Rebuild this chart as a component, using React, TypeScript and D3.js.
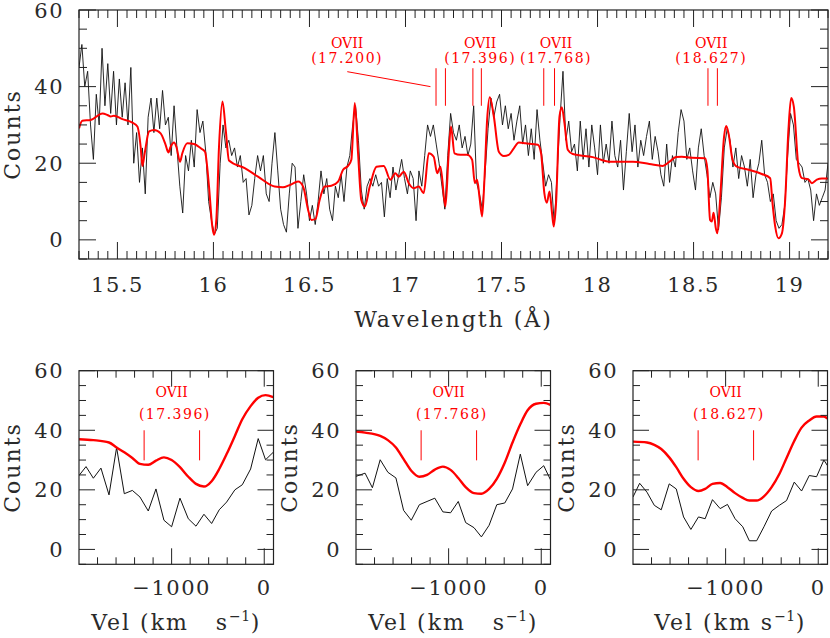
import React from "react";
import * as d3 from "d3";

const FONT = "'DejaVu Serif', serif";
const INK = "#222";
const RED = "#ff0000";

// ---------- top panel data ----------
const topWaveStart = 15.3;
const topWaveStep = 0.015;
const topCounts = [
  45, 51, 40, 44, 30, 21, 38, 30, 50, 35, 46, 33, 44, 30, 42, 32, 41, 30, 45, 20, 28, 15, 24, 12, 32, 37, 28, 37, 29, 39, 30, 32, 22, 35, 24, 14, 7, 22, 18, 26, 19, 34, 28, 31, 23, 10, 5, 1.5, 3, 20, 30, 24, 26, 22,
  24, 19, 22, 15, 16, 6.5, 9, 16, 22, 18, 22, 12, 10, 20, 28, 18, 8, 4, 2, 12, 20, 19, 3, 10, 17, 12, 5, 9, 4, 10, 18, 12, 16, 8, 5, 14, 11, 17, 10, 19, 22, 30, 35, 26, 13, 8, 14, 16, 14, 17, 14,
  15, 6, 16, 11, 19, 13, 17, 21, 16, 12, 18, 16, 5, 18, 14, 22, 30, 27, 30, 25, 20, 14, 8, 22, 33, 28, 26, 30, 24, 27, 22, 25, 35, 15, 12, 8, 18, 29, 37, 32, 36, 38, 30, 35, 29, 33, 26, 31, 35, 25, 30, 22,
  29, 21, 34, 26, 20, 14, 17, 15, 4, 18, 32, 44, 26, 31, 23, 25, 18, 31, 21, 29, 19, 30, 24, 17, 30, 20, 25, 20, 31, 22, 19, 26, 13, 23, 33, 23, 30, 19, 26, 22, 27, 31, 21, 27, 23, 17, 14, 25, 15, 22, 19, 28,
  34, 31, 21, 24, 18, 13, 24, 29, 22, 17, 11, 15, 12, 2.6, 11, 24, 29, 26, 19, 24, 16, 22, 19, 14, 21, 11, 17, 20, 26, 17, 15, 10, 12, 5, 3, 4, 9, 22, 33, 30, 21, 20, 19, 15, 16, 13, 5, 12, 9, 11, 13, 20,
];
const modelWave = [
  15.3, 15.317, 15.361, 15.422, 15.448, 15.465, 15.482, 15.526, 15.578, 15.604, 15.621, 15.63, 15.642, 15.665, 15.691, 15.725, 15.751, 15.765, 15.777, 15.795, 15.807, 15.826, 15.838, 15.864, 15.899, 15.934, 15.956, 15.977, 15.994, 16.003, 16.015, 16.029, 16.047, 16.064, 16.081,
  16.163, 16.232, 16.319, 16.362, 16.397, 16.441, 16.467, 16.493, 16.51, 16.531, 16.553, 16.579, 16.614, 16.649, 16.675, 16.701, 16.718, 16.736, 16.753, 16.77, 16.788, 16.814, 16.849,
  16.887, 16.921, 16.947, 16.965, 16.991, 17.017, 17.043, 17.069, 17.095, 17.121, 17.147, 17.165, 17.182, 17.208, 17.225, 17.237, 17.255, 17.286, 17.321, 17.347, 17.361, 17.373, 17.385, 17.399, 17.411, 17.425, 17.439, 17.46, 17.486, 17.512, 17.538, 17.564, 17.59, 17.625,
  17.689, 17.706, 17.723, 17.736, 17.75, 17.763, 17.772, 17.784, 17.802, 17.814, 17.828, 17.845, 17.871, 17.975, 18.062, 18.184, 18.27, 18.34, 18.375, 18.409,
  18.439, 18.491, 18.56, 18.572, 18.586, 18.595, 18.604, 18.616, 18.624, 18.638, 18.659, 18.67, 18.682, 18.703, 18.725, 18.786, 18.855, 18.899, 18.911, 18.925, 18.942, 18.96, 18.977, 18.994, 19.008, 19.022, 19.046, 19.064, 19.098, 19.116, 19.142, 19.168, 19.203,
];
const modelCounts = [
  29.1, 31.1, 31.3, 33.0, 32.6, 32.2, 32.4, 31.5, 30.6, 29.6, 24.3, 19.3, 22.6, 28.3, 28.7, 27.8, 24.8, 22.8, 24.3, 25.4, 24.3, 20.4, 22.6, 25.2, 25.0, 23.9, 23.0, 13.9, 3.5, 1.3, 5.2, 24.3, 36.1, 28.7, 20.7,
  18.7, 16.5, 13.9, 13.7, 14.3, 15.2, 13.9, 7.8, 5.2, 5.4, 10.4, 13.9, 14.1, 15.2, 18.3, 19.3, 20.9, 35.7, 22.6, 10.4, 8.7, 13.9, 19.1,
  19.3, 15.7, 17.4, 16.5, 17.8, 14.8, 13.5, 13.9, 12.2, 22.6, 21.7, 17.4, 19.1, 8.7, 22.6, 29.6, 22.6, 22.2, 22.2, 20.9, 14.8, 15.7, 11.3, 6.1, 15.7, 31.3, 37.2, 32.2, 23.0, 21.9, 22.2, 23.9, 25.4, 25.2,
  24.8, 22.6, 12.2, 9.7, 12.6, 7.0, 3.5, 9.6, 32.2, 34.6, 30.4, 23.5, 22.4, 21.6, 20.4, 20.4, 19.8, 19.3, 20.4, 21.6,
  21.7, 21.4, 21.3, 18.3, 5.2, 4.8, 7.1, 3.0, 1.7, 10.4, 27.0, 29.7, 27.8, 20.9, 19.1, 18.3, 17.2, 16.1, 9.6, 3.5, 0.4, 1.7, 10.4, 28.7, 37.0, 34.8, 19.1, 16.1, 15.8, 14.8, 15.7, 16.0, 16.0,
];

// line identifications (top panel)
const ionNames = ["OVII", "OVII", "OVII", "OVII"];
const restLabels = ["(17.200)", "(17.396)", "(17.768)", "(18.627)"];
const labelWave = [16.696, 17.389, 17.784, 18.592];
const markWaveA = [17.159, 17.351, 17.72, 18.575];
const markWaveB = [17.208, 17.395, 17.776, 18.624];

const topXTicks = [15.5, 16, 16.5, 17, 17.5, 18, 18.5, 19];
const topXTickLabels = ["15.5", "16", "16.5", "17", "17.5", "18", "18.5", "19"];
const yTicks = [0, 20, 40, 60];
const yTickLabels = ["0", "20", "40", "60"];

// ---------- bottom panels data ----------
const p1Vel = [-2000, -1924, -1845, -1763, -1676, -1594, -1511, -1424, -1342, -1252, -1169, -1083, -1000, -910, -820, -737, -651, -568, -486, -406, -317, -237, -147, -65, 14, 97];
const p1Counts = [24.8, 27.8, 23.9, 27.3, 18.3, 34.2, 18.7, 19.8, 17.6, 12.9, 20.3, 9.8, 7.6, 17.2, 10.3, 7.8, 11.8, 8.7, 13.3, 15.9, 20, 21.7, 27, 37.2, 30.1, 32.6];
const p1ModelVel = [-2000, -1845, -1676, -1594, -1511, -1424, -1342, -1252, -1169, -1083, -1000, -910, -820, -737, -651, -568, -486, -406, -317, -237, -147, -65, 14, 97];
const p1Model = [37, 36.7, 35.9, 34.2, 32.6, 30.7, 28.7, 28.4, 29.8, 30.9, 30, 27.6, 24.4, 22, 21.1, 22.9, 27, 32, 38.1, 43.7, 48.1, 50.9, 51.8, 51.1];

const p2Vel = [-2011, -1902, -1823, -1739, -1656, -1569, -1486, -1403, -1316, -1233, -1149, -1062, -979, -896, -816, -726, -646, -563, -480, -393, -310, -226, -147, -56, 27, 107];
const p2Counts = [24.4, 25.6, 20.7, 30.1, 25.9, 24, 13.1, 9.8, 15, 16.1, 17.2, 12.6, 12.3, 16.1, 9, 7.3, 4.2, 8.1, 15, 15.6, 20.3, 32, 21.4, 25.9, 28.1, 22.9];
const p2ModelVel = [-2011, -1902, -1739, -1656, -1569, -1486, -1403, -1316, -1233, -1149, -1062, -979, -896, -816, -726, -646, -563, -480, -393, -310, -226, -147, -56, 27, 107];
const p2Model = [39.6, 39.2, 38.1, 36.7, 34.2, 30.3, 26.4, 24.4, 25, 26.8, 27.8, 26.7, 24, 20.9, 18.9, 18.7, 20.3, 23.7, 29.2, 35.9, 42, 46.7, 48.9, 49.2, 48.4];

const p3Vel = [-2000, -1928, -1849, -1770, -1695, -1609, -1533, -1454, -1375, -1293, -1221, -1142, -1059, -980, -898, -815, -744, -665, -586, -503, -420, -342, -259, -180, -97, -18, 61, 100];
const p3Counts = [17.6, 22.2, 19.2, 14.8, 13.3, 22, 20.3, 10.9, 6.7, 10.9, 10.3, 16.7, 13.7, 15.1, 10.3, 7.6, 2.9, 2.9, 7.6, 12.9, 14.8, 16.4, 22.6, 19.6, 24.8, 24.4, 30, 28.1];
const p3ModelVel = [-2000, -1849, -1770, -1695, -1609, -1533, -1454, -1375, -1293, -1221, -1142, -1059, -980, -898, -815, -744, -665, -586, -503, -420, -342, -259, -180, -97, -18, 61, 100];
const p3Model = [36.2, 35.9, 35.1, 33.7, 30.9, 27.6, 23.7, 20.9, 19.6, 20.3, 22, 22.3, 20.9, 18.9, 17.3, 16.4, 16.4, 17.8, 20.9, 25.3, 30.7, 36.4, 40.9, 43.3, 44.6, 44.6, 43.9];

const panelRest = ["(17.396)", "(17.768)", "(18.627)"];
const panelMarkVel = [-1297, -698];
const botXTicks = [-1000, 0];
const botXTickLabels = ["\u22121000", "0"];

type Pt = [number, number];

function Frame(props: {
  x0: number; y0: number; w: number; h: number;
  xs: (v: number) => number; ys: (v: number) => number;
  xMajor: number[]; xMinor: number[]; yMajor: number[]; yMinor: number[];
  maj: number; min: number;
}) {
  const { x0, y0, w, h, xs, ys, xMajor, xMinor, yMajor, yMinor, maj, min } = props;
  const segs: string[] = [];
  const vx = (v: number, L: number) => {
    const x = xs(v);
    segs.push(`M${x},${y0 + h}V${y0 + h - L}`);
    segs.push(`M${x},${y0}V${y0 + L}`);
  };
  const vy = (v: number, L: number) => {
    const y = ys(v);
    segs.push(`M${x0},${y}H${x0 + L}`);
    segs.push(`M${x0 + w},${y}H${x0 + w - L}`);
  };
  xMajor.forEach((v) => vx(v, maj));
  xMinor.forEach((v) => vx(v, min));
  yMajor.forEach((v) => vy(v, maj));
  yMinor.forEach((v) => vy(v, min));
  return (
    <g>
      <path d={segs.join("")} stroke={INK} strokeWidth={1} fill="none" />
      <rect x={x0} y={y0} width={w} height={h} fill="none" stroke={INK} strokeWidth={1.2} />
    </g>
  );
}

const tickText = { fontFamily: FONT, fontSize: 21, fill: "#2a2a2a", letterSpacing: 1.5 } as const;
const titleText = { fontFamily: FONT, fontSize: 22, fill: "#2a2a2a", letterSpacing: 2 } as const;
const redText = { fontFamily: FONT, fontSize: 14, fill: RED } as const;

function TopPanel() {
  const x0 = 79, y0 = 10, w = 749, h = 249;
  const xs = d3.scaleLinear().domain([15.3, 19.2]).range([x0, x0 + w]);
  const ys = d3.scaleLinear().domain([-5, 60]).range([y0 + h, y0]);
  const dataPts: Pt[] = topCounts.map((c, i) => [topWaveStart + i * topWaveStep, c]);
  const modelPts: Pt[] = modelWave.map((wv, i) => [wv, modelCounts[i]]);
  const lineData = d3.line<Pt>().x((d) => xs(d[0])).y((d) => ys(d[1]));
  const lineModel = d3.line<Pt>().x((d) => xs(d[0])).y((d) => ys(d[1])).curve(d3.curveMonotoneX);
  const xMinor: number[] = [];
  for (let k = 306; k <= 384; k++) if (k % 10 !== 0) xMinor.push(k * 0.05);
  const yMinor: number[] = [];
  for (let v = -5; v <= 60; v += 5) if (v % 20 !== 0) yMinor.push(v);
  return (
    <g>
      <defs>
        <clipPath id="clipTop">
          <rect x={x0} y={y0} width={w} height={h} />
        </clipPath>
      </defs>
      <g clipPath="url(#clipTop)">
        <path d={lineData(dataPts) || ""} fill="none" stroke="#111" strokeWidth={0.9} />
        <path d={lineModel(modelPts) || ""} fill="none" stroke={RED} strokeWidth={2} />
      </g>
      {ionNames.map((n, i) => (
        <g key={i}>
          <text x={xs(labelWave[i])} y={ys(50.1)} textAnchor="middle" {...redText}>{n}</text>
          <text x={xs(labelWave[i])} y={ys(46.2)} textAnchor="middle" {...redText} letterSpacing={1.5}>{restLabels[i]}</text>
          <line x1={xs(markWaveA[i])} x2={xs(markWaveA[i])} y1={ys(44.8)} y2={ys(35)} stroke={RED} strokeWidth={1} />
          <line x1={xs(markWaveB[i])} x2={xs(markWaveB[i])} y1={ys(44.8)} y2={ys(35)} stroke={RED} strokeWidth={1} />
        </g>
      ))}
      <line x1={xs(16.697)} y1={ys(43.9)} x2={xs(17.13)} y2={ys(40.0)} stroke={RED} strokeWidth={1} />
      <Frame x0={x0} y0={y0} w={w} h={h} xs={xs} ys={ys} xMajor={topXTicks} xMinor={xMinor} yMajor={yTicks} yMinor={yMinor} maj={17} min={8} />
      {topXTicks.map((t, i) => (
        <text key={i} x={xs(t)} y={292} textAnchor="middle" {...tickText}>{topXTickLabels[i]}</text>
      ))}
      {yTicks.map((t, i) => (
        <text key={i} x={x0 - 15} y={ys(t) + 7.5} textAnchor="end" {...tickText}>{yTickLabels[i]}</text>
      ))}
      <text x={x0 + w / 2} y={327} textAnchor="middle" {...titleText}>Wavelength (Å)</text>
      <text transform={`translate(${x0 - 59},${y0 + h / 2}) rotate(-90)`} textAnchor="middle" {...titleText}>Counts</text>
    </g>
  );
}

function VelPanel(props: { idx: number; x0: number; vel: number[]; counts: number[]; mVel: number[]; model: number[]; wideGap: boolean }) {
  const { idx, x0, vel, counts, mVel, model, wideGap } = props;
  const y0 = 370.7, w = 194.5, h = 193.6;
  const xs = d3.scaleLinear().domain([-2000, 100]).range([x0, x0 + w]);
  const ys = d3.scaleLinear().domain([-5, 60]).range([y0 + h, y0]);
  const dataPts: Pt[] = vel.map((v, i) => [v, counts[i]]);
  const modelPts: Pt[] = mVel.map((v, i) => [v, model[i]]);
  const lineData = d3.line<Pt>().x((d) => xs(d[0])).y((d) => ys(d[1]));
  const lineModel = d3.line<Pt>().x((d) => xs(d[0])).y((d) => ys(d[1])).curve(d3.curveMonotoneX);
  const xMinor: number[] = [];
  for (let v = -1800; v <= 0; v += 200) if (v !== -1000 && v !== 0) xMinor.push(v);
  const yMinor: number[] = [];
  for (let v = -5; v <= 60; v += 5) if (v % 20 !== 0) yMinor.push(v);
  const cid = `clipVel${idx}`;
  return (
    <g>
      <defs>
        <clipPath id={cid}>
          <rect x={x0} y={y0} width={w} height={h} />
        </clipPath>
      </defs>
      <g clipPath={`url(#${cid})`}>
        <path d={lineData(dataPts) || ""} fill="none" stroke="#111" strokeWidth={1} />
        <path d={lineModel(modelPts) || ""} fill="none" stroke={RED} strokeWidth={2.4} />
      </g>
      <text x={xs(-1000)} y={ys(51.2)} textAnchor="middle" {...redText}>OVII</text>
      <text x={xs(-965)} y={ys(43.9)} textAnchor="middle" {...redText} letterSpacing={1.5}>{panelRest[idx]}</text>
      {panelMarkVel.map((v, i) => (
        <line key={i} x1={xs(v)} x2={xs(v)} y1={ys(40)} y2={ys(29.9)} stroke={RED} strokeWidth={1} />
      ))}
      <Frame x0={x0} y0={y0} w={w} h={h} xs={xs} ys={ys} xMajor={botXTicks} xMinor={xMinor} yMajor={yTicks} yMinor={yMinor} maj={16} min={7} />
      {botXTicks.map((t, i) => (
        <text key={i} x={xs(t)} y={595} textAnchor="middle" {...tickText}>{botXTickLabels[i]}</text>
      ))}
      {yTicks.map((t, i) => (
        <text key={i} x={x0 - 15} y={ys(t) + 7.5} textAnchor="end" {...tickText}>{yTickLabels[i]}</text>
      ))}
      <text x={x0 + w / 2} y={630} textAnchor="middle" {...titleText} style={{ whiteSpace: "pre" }}>
        <tspan>{wideGap ? "Vel (km   s" : "Vel (km s"}</tspan>
        <tspan fontSize={14} dy={-9} letterSpacing={0.5}>{"\u22121"}</tspan>
        <tspan dy={9}>)</tspan>
      </text>
      <text transform={`translate(${x0 - 59},${y0 + h / 2}) rotate(-90)`} textAnchor="middle" {...titleText}>Counts</text>
    </g>
  );
}

export default function App() {
  return (
    <div style={{ position: "absolute", left: 0, top: 0 }}>
      <svg width={830} height={638} style={{ display: "block", background: "#fff" }}>
        <rect x={0} y={0} width={830} height={638} fill="#fff" />
        <TopPanel />
        <VelPanel idx={0} x0={79} vel={p1Vel} counts={p1Counts} mVel={p1ModelVel} model={p1Model} wideGap={true} />
        <VelPanel idx={1} x0={356} vel={p2Vel} counts={p2Counts} mVel={p2ModelVel} model={p2Model} wideGap={true} />
        <VelPanel idx={2} x0={633} vel={p3Vel} counts={p3Counts} mVel={p3ModelVel} model={p3Model} wideGap={false} />
      </svg>
    </div>
  );
}
